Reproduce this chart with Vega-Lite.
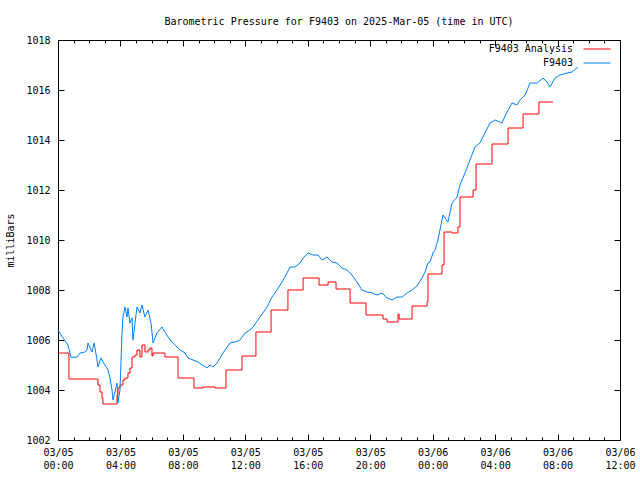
{
  "$schema": "https://vega.github.io/schema/vega-lite/v6.json",
  "width": 562,
  "height": 400,
  "autosize": "none",
  "padding": {"left": 58, "top": 40, "right": 20, "bottom": 40},
  "background": "white",
  "config": {
    "view": {"stroke": "black", "strokeWidth": 1},
    "font": "DejaVu Sans Mono",
    "axis": {
      "labelFont": "DejaVu Sans Mono",
      "labelFontSize": 10,
      "labelColor": "black",
      "tickColor": "black",
      "domain": false,
      "grid": false,
      "titleFont": "DejaVu Sans Mono",
      "titleFontSize": 10,
      "titleFontWeight": "normal",
      "titleColor": "black"
    },
    "legend": {
      "labelFont": "DejaVu Sans Mono",
      "labelFontSize": 10,
      "labelColor": "black"
    }
  },
  "title": {
    "text": "Barometric Pressure for F9403 on 2025-Mar-05 (time in UTC)",
    "font": "DejaVu Sans Mono",
    "fontSize": 10,
    "fontWeight": "normal",
    "color": "black",
    "anchor": "middle",
    "offset": 8
  },
  "data": {
    "values": [
      {"series": "F9403 Analysis", "h": 0.00, "p": 1005.48},
      {"series": "F9403 Analysis", "h": 0.70, "p": 1004.44},
      {"series": "F9403 Analysis", "h": 2.56, "p": 1004.20},
      {"series": "F9403 Analysis", "h": 2.69, "p": 1003.92},
      {"series": "F9403 Analysis", "h": 2.82, "p": 1003.68},
      {"series": "F9403 Analysis", "h": 2.88, "p": 1003.44},
      {"series": "F9403 Analysis", "h": 3.78, "p": 1003.80},
      {"series": "F9403 Analysis", "h": 3.84, "p": 1004.08},
      {"series": "F9403 Analysis", "h": 3.97, "p": 1004.20},
      {"series": "F9403 Analysis", "h": 4.16, "p": 1004.40},
      {"series": "F9403 Analysis", "h": 4.29, "p": 1004.48},
      {"series": "F9403 Analysis", "h": 4.48, "p": 1004.68},
      {"series": "F9403 Analysis", "h": 4.61, "p": 1004.88},
      {"series": "F9403 Analysis", "h": 4.74, "p": 1005.32},
      {"series": "F9403 Analysis", "h": 4.93, "p": 1005.40},
      {"series": "F9403 Analysis", "h": 5.06, "p": 1005.60},
      {"series": "F9403 Analysis", "h": 5.25, "p": 1005.32},
      {"series": "F9403 Analysis", "h": 5.38, "p": 1005.80},
      {"series": "F9403 Analysis", "h": 5.57, "p": 1005.52},
      {"series": "F9403 Analysis", "h": 5.77, "p": 1005.60},
      {"series": "F9403 Analysis", "h": 5.89, "p": 1005.68},
      {"series": "F9403 Analysis", "h": 6.02, "p": 1005.36},
      {"series": "F9403 Analysis", "h": 6.09, "p": 1005.48},
      {"series": "F9403 Analysis", "h": 6.85, "p": 1005.32},
      {"series": "F9403 Analysis", "h": 7.69, "p": 1004.48},
      {"series": "F9403 Analysis", "h": 8.71, "p": 1004.08},
      {"series": "F9403 Analysis", "h": 9.29, "p": 1004.12},
      {"series": "F9403 Analysis", "h": 10.06, "p": 1004.08},
      {"series": "F9403 Analysis", "h": 10.76, "p": 1004.80},
      {"series": "F9403 Analysis", "h": 11.79, "p": 1005.36},
      {"series": "F9403 Analysis", "h": 12.68, "p": 1006.32},
      {"series": "F9403 Analysis", "h": 13.65, "p": 1007.20},
      {"series": "F9403 Analysis", "h": 14.73, "p": 1008.00},
      {"series": "F9403 Analysis", "h": 15.70, "p": 1008.48},
      {"series": "F9403 Analysis", "h": 16.72, "p": 1008.20},
      {"series": "F9403 Analysis", "h": 17.30, "p": 1008.32},
      {"series": "F9403 Analysis", "h": 17.81, "p": 1008.04},
      {"series": "F9403 Analysis", "h": 18.71, "p": 1007.48},
      {"series": "F9403 Analysis", "h": 19.73, "p": 1007.00},
      {"series": "F9403 Analysis", "h": 20.82, "p": 1006.84},
      {"series": "F9403 Analysis", "h": 21.08, "p": 1006.72},
      {"series": "F9403 Analysis", "h": 21.78, "p": 1007.04},
      {"series": "F9403 Analysis", "h": 21.85, "p": 1006.84},
      {"series": "F9403 Analysis", "h": 22.68, "p": 1007.36},
      {"series": "F9403 Analysis", "h": 23.64, "p": 1007.52},
      {"series": "F9403 Analysis", "h": 23.70, "p": 1008.64},
      {"series": "F9403 Analysis", "h": 24.60, "p": 1009.00},
      {"series": "F9403 Analysis", "h": 24.73, "p": 1010.32},
      {"series": "F9403 Analysis", "h": 25.24, "p": 1010.28},
      {"series": "F9403 Analysis", "h": 25.62, "p": 1010.52},
      {"series": "F9403 Analysis", "h": 25.75, "p": 1011.72},
      {"series": "F9403 Analysis", "h": 26.59, "p": 1012.00},
      {"series": "F9403 Analysis", "h": 26.78, "p": 1013.04},
      {"series": "F9403 Analysis", "h": 27.80, "p": 1013.84},
      {"series": "F9403 Analysis", "h": 28.83, "p": 1014.48},
      {"series": "F9403 Analysis", "h": 29.79, "p": 1015.04},
      {"series": "F9403 Analysis", "h": 30.81, "p": 1015.52},
      {"series": "F9403 Analysis", "h": 31.71, "p": 1015.52},

      {"series": "F9403", "h": 0.00, "p": 1006.40},
      {"series": "F9403", "h": 0.32, "p": 1006.08},
      {"series": "F9403", "h": 0.64, "p": 1005.80},
      {"series": "F9403", "h": 0.84, "p": 1005.30},
      {"series": "F9403", "h": 1.22, "p": 1005.32},
      {"series": "F9403", "h": 1.41, "p": 1005.48},
      {"series": "F9403", "h": 1.73, "p": 1005.52},
      {"series": "F9403", "h": 1.86, "p": 1005.60},
      {"series": "F9403", "h": 1.92, "p": 1005.88},
      {"series": "F9403", "h": 2.18, "p": 1005.52},
      {"series": "F9403", "h": 2.31, "p": 1005.88},
      {"series": "F9403", "h": 2.37, "p": 1005.68},
      {"series": "F9403", "h": 2.50, "p": 1005.20},
      {"series": "F9403", "h": 2.56, "p": 1004.92},
      {"series": "F9403", "h": 2.75, "p": 1005.28},
      {"series": "F9403", "h": 2.88, "p": 1005.12},
      {"series": "F9403", "h": 3.01, "p": 1005.00},
      {"series": "F9403", "h": 3.20, "p": 1004.80},
      {"series": "F9403", "h": 3.33, "p": 1004.48},
      {"series": "F9403", "h": 3.46, "p": 1004.00},
      {"series": "F9403", "h": 3.52, "p": 1003.60},
      {"series": "F9403", "h": 3.65, "p": 1003.92},
      {"series": "F9403", "h": 3.78, "p": 1004.28},
      {"series": "F9403", "h": 3.84, "p": 1003.48},
      {"series": "F9403", "h": 3.97, "p": 1004.00},
      {"series": "F9403", "h": 4.10, "p": 1006.28},
      {"series": "F9403", "h": 4.16, "p": 1006.92},
      {"series": "F9403", "h": 4.29, "p": 1007.32},
      {"series": "F9403", "h": 4.42, "p": 1006.92},
      {"series": "F9403", "h": 4.48, "p": 1007.28},
      {"series": "F9403", "h": 4.61, "p": 1006.68},
      {"series": "F9403", "h": 4.74, "p": 1006.88},
      {"series": "F9403", "h": 4.80, "p": 1006.00},
      {"series": "F9403", "h": 5.06, "p": 1007.32},
      {"series": "F9403", "h": 5.25, "p": 1007.08},
      {"series": "F9403", "h": 5.38, "p": 1007.40},
      {"series": "F9403", "h": 5.57, "p": 1006.92},
      {"series": "F9403", "h": 5.77, "p": 1007.20},
      {"series": "F9403", "h": 5.96, "p": 1006.68},
      {"series": "F9403", "h": 6.09, "p": 1005.88},
      {"series": "F9403", "h": 6.34, "p": 1006.28},
      {"series": "F9403", "h": 6.66, "p": 1006.52},
      {"series": "F9403", "h": 6.85, "p": 1006.32},
      {"series": "F9403", "h": 7.05, "p": 1006.12},
      {"series": "F9403", "h": 7.30, "p": 1005.92},
      {"series": "F9403", "h": 7.62, "p": 1005.72},
      {"series": "F9403", "h": 7.82, "p": 1005.60},
      {"series": "F9403", "h": 8.14, "p": 1005.48},
      {"series": "F9403", "h": 8.33, "p": 1005.28},
      {"series": "F9403", "h": 8.65, "p": 1005.20},
      {"series": "F9403", "h": 8.97, "p": 1005.12},
      {"series": "F9403", "h": 9.23, "p": 1005.00},
      {"series": "F9403", "h": 9.55, "p": 1004.88},
      {"series": "F9403", "h": 9.74, "p": 1005.00},
      {"series": "F9403", "h": 9.93, "p": 1004.92},
      {"series": "F9403", "h": 10.19, "p": 1005.08},
      {"series": "F9403", "h": 10.57, "p": 1005.48},
      {"series": "F9403", "h": 11.02, "p": 1005.88},
      {"series": "F9403", "h": 11.34, "p": 1005.92},
      {"series": "F9403", "h": 11.66, "p": 1006.00},
      {"series": "F9403", "h": 11.98, "p": 1006.28},
      {"series": "F9403", "h": 12.30, "p": 1006.40},
      {"series": "F9403", "h": 12.49, "p": 1006.52},
      {"series": "F9403", "h": 12.94, "p": 1006.92},
      {"series": "F9403", "h": 13.39, "p": 1007.32},
      {"series": "F9403", "h": 13.71, "p": 1007.72},
      {"series": "F9403", "h": 14.03, "p": 1008.00},
      {"series": "F9403", "h": 14.35, "p": 1008.32},
      {"series": "F9403", "h": 14.54, "p": 1008.52},
      {"series": "F9403", "h": 14.86, "p": 1008.92},
      {"series": "F9403", "h": 15.18, "p": 1008.92},
      {"series": "F9403", "h": 15.50, "p": 1009.08},
      {"series": "F9403", "h": 15.70, "p": 1009.28},
      {"series": "F9403", "h": 16.02, "p": 1009.48},
      {"series": "F9403", "h": 16.34, "p": 1009.40},
      {"series": "F9403", "h": 16.66, "p": 1009.40},
      {"series": "F9403", "h": 16.91, "p": 1009.20},
      {"series": "F9403", "h": 17.23, "p": 1009.32},
      {"series": "F9403", "h": 17.55, "p": 1009.12},
      {"series": "F9403", "h": 17.87, "p": 1009.08},
      {"series": "F9403", "h": 18.19, "p": 1008.88},
      {"series": "F9403", "h": 18.51, "p": 1008.80},
      {"series": "F9403", "h": 18.83, "p": 1008.60},
      {"series": "F9403", "h": 19.15, "p": 1008.32},
      {"series": "F9403", "h": 19.47, "p": 1008.00},
      {"series": "F9403", "h": 19.80, "p": 1007.92},
      {"series": "F9403", "h": 20.12, "p": 1007.88},
      {"series": "F9403", "h": 20.44, "p": 1007.80},
      {"series": "F9403", "h": 20.76, "p": 1007.88},
      {"series": "F9403", "h": 21.08, "p": 1007.68},
      {"series": "F9403", "h": 21.40, "p": 1007.60},
      {"series": "F9403", "h": 21.72, "p": 1007.72},
      {"series": "F9403", "h": 22.04, "p": 1007.72},
      {"series": "F9403", "h": 22.36, "p": 1007.88},
      {"series": "F9403", "h": 22.68, "p": 1008.00},
      {"series": "F9403", "h": 23.00, "p": 1008.16},
      {"series": "F9403", "h": 23.32, "p": 1008.48},
      {"series": "F9403", "h": 23.51, "p": 1008.72},
      {"series": "F9403", "h": 23.70, "p": 1009.08},
      {"series": "F9403", "h": 23.83, "p": 1009.12},
      {"series": "F9403", "h": 24.02, "p": 1009.48},
      {"series": "F9403", "h": 24.15, "p": 1009.60},
      {"series": "F9403", "h": 24.34, "p": 1010.00},
      {"series": "F9403", "h": 24.66, "p": 1011.00},
      {"series": "F9403", "h": 24.98, "p": 1010.72},
      {"series": "F9403", "h": 25.24, "p": 1011.48},
      {"series": "F9403", "h": 25.56, "p": 1011.72},
      {"series": "F9403", "h": 25.75, "p": 1012.20},
      {"series": "F9403", "h": 26.07, "p": 1012.68},
      {"series": "F9403", "h": 26.39, "p": 1013.20},
      {"series": "F9403", "h": 26.71, "p": 1013.72},
      {"series": "F9403", "h": 27.03, "p": 1013.88},
      {"series": "F9403", "h": 27.35, "p": 1014.28},
      {"series": "F9403", "h": 27.67, "p": 1014.68},
      {"series": "F9403", "h": 28.00, "p": 1014.80},
      {"series": "F9403", "h": 28.44, "p": 1014.68},
      {"series": "F9403", "h": 28.76, "p": 1015.12},
      {"series": "F9403", "h": 29.08, "p": 1015.48},
      {"series": "F9403", "h": 29.40, "p": 1015.40},
      {"series": "F9403", "h": 29.60, "p": 1015.60},
      {"series": "F9403", "h": 29.92, "p": 1015.80},
      {"series": "F9403", "h": 30.24, "p": 1016.28},
      {"series": "F9403", "h": 30.69, "p": 1016.28},
      {"series": "F9403", "h": 31.07, "p": 1016.48},
      {"series": "F9403", "h": 31.33, "p": 1016.32},
      {"series": "F9403", "h": 31.52, "p": 1016.12},
      {"series": "F9403", "h": 31.84, "p": 1016.48},
      {"series": "F9403", "h": 32.16, "p": 1016.60},
      {"series": "F9403", "h": 32.61, "p": 1016.68},
      {"series": "F9403", "h": 32.93, "p": 1016.72},
      {"series": "F9403", "h": 33.31, "p": 1016.92}
    ]
  },
  "layer": [
    {
      "transform": [{"filter": "datum.series === 'F9403 Analysis'"}],
      "mark": {"type": "line", "interpolate": "step-after", "strokeWidth": 1},
      "encoding": {
        "x": {
          "field": "h",
          "type": "quantitative",
          "scale": {"domain": [0, 36], "nice": false, "zero": false},
          "axis": {
            "orient": "bottom",
            "title": null,
            "values": [0,1,2,3,4,5,6,7,8,9,10,11,12,13,14,15,16,17,18,19,20,21,22,23,24,25,26,27,28,29,30,31,32,33,34,35,36],
            "tickSize": {"condition": {"test": "datum.value % 4 === 0", "value": -6}, "value": -3},
            "labelPadding": 13,
            "labelLineHeight": 13,
            "labelBaseline": "top",
            "labelFlush": false,
            "labelOverlap": false,
            "labelExpr": "datum.value % 4 === 0 ? [datum.value < 24 ? '03/05' : '03/06', ((datum.value % 24) < 10 ? '0' : '') + (datum.value % 24) + ':00'] : ''"
          }
        },
        "y": {
          "field": "p",
          "type": "quantitative",
          "scale": {"domain": [1002, 1018], "nice": false, "zero": false},
          "axis": {
            "orient": "left",
            "title": "milliBars",
            "values": [1002, 1004, 1006, 1008, 1010, 1012, 1014, 1016, 1018],
            "format": "d",
            "tickSize": -6,
            "labelPadding": 14,
            "titlePadding": 10
          }
        },
        "color": {
          "field": "series",
          "type": "nominal",
          "scale": {"domain": ["F9403 Analysis", "F9403"], "range": ["#ff0000", "#0080ff"]},
          "legend": {
            "title": null,
            "orient": "none",
            "legendX": 534,
            "legendY": 4,
            "padding": 0,
            "symbolType": "M-3.857,0H3.857",
            "symbolSize": 49,
            "symbolStrokeWidth": 1,
            "symbolFillColor": "transparent",
            "labelAlign": "right",
            "labelOffset": -29,
            "rowPadding": 4
          }
        }
      }
    },
    {
      "transform": [{"filter": "datum.series === 'F9403'"}],
      "mark": {"type": "line", "strokeWidth": 1},
      "encoding": {
        "x": {
          "field": "h",
          "type": "quantitative",
          "axis": {
            "orient": "top",
            "title": null,
            "labels": false,
            "values": [0,1,2,3,4,5,6,7,8,9,10,11,12,13,14,15,16,17,18,19,20,21,22,23,24,25,26,27,28,29,30,31,32,33,34,35,36],
            "tickSize": {"condition": {"test": "datum.value % 4 === 0", "value": -6}, "value": -3}
          }
        },
        "y": {
          "field": "p",
          "type": "quantitative",
          "axis": {
            "orient": "right",
            "title": null,
            "labels": false,
            "values": [1002, 1004, 1006, 1008, 1010, 1012, 1014, 1016, 1018],
            "tickSize": -6
          }
        },
        "color": {"field": "series", "type": "nominal"}
      }
    }
  ],
  "resolve": {"axis": {"x": "independent", "y": "independent"}}
}
